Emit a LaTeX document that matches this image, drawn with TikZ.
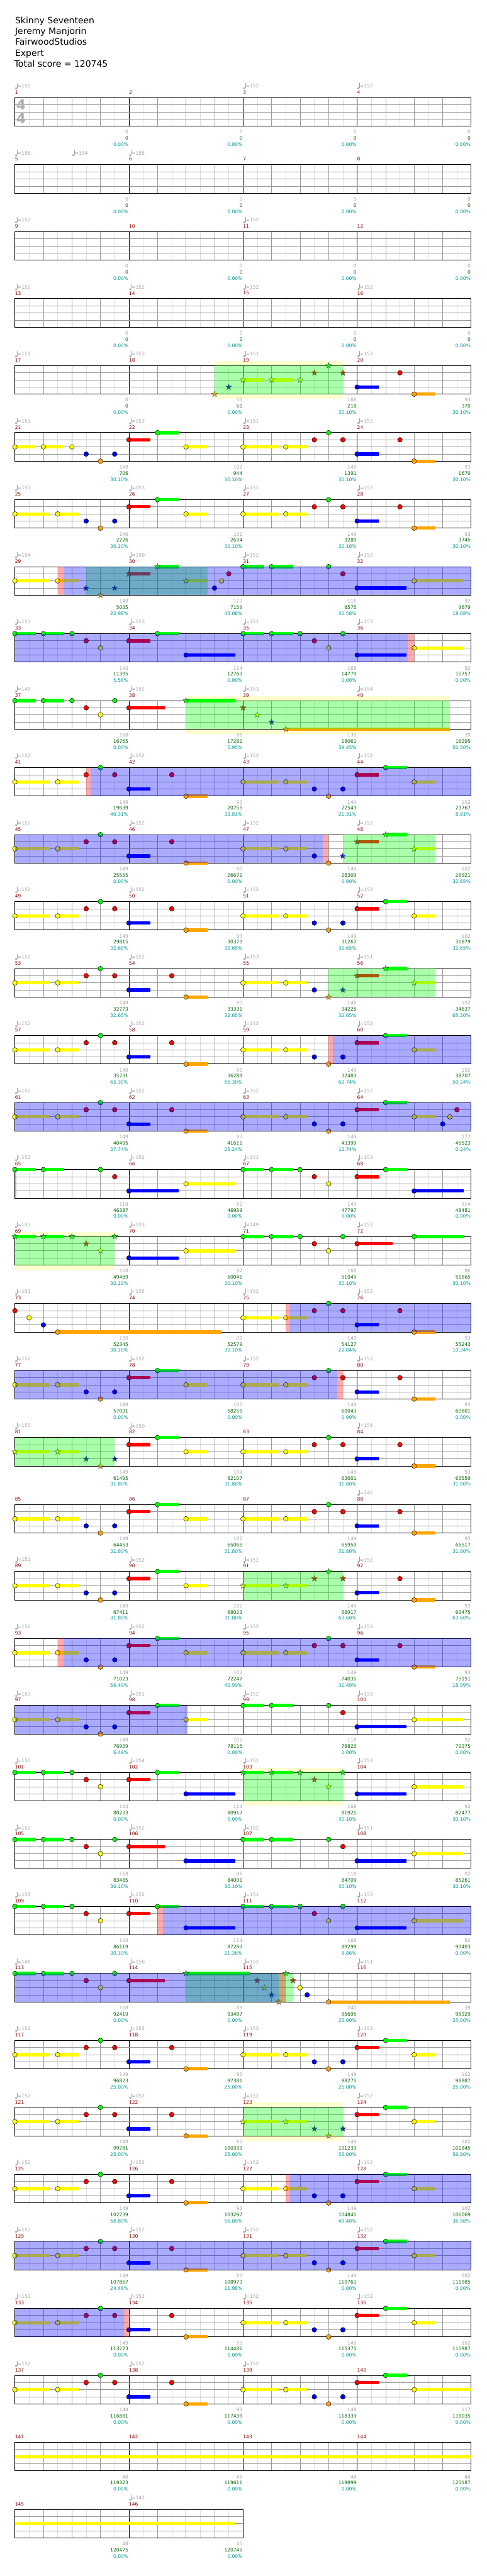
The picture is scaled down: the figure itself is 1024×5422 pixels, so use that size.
\documentclass[tikz,border=0pt]{standalone}
\usepackage{fontspec}
\setmainfont{DejaVu Sans}
\definecolor{cG}{RGB}{0,255,0}
\definecolor{cR}{RGB}{255,0,0}
\definecolor{cY}{RGB}{255,255,0}
\definecolor{cB}{RGB}{0,0,255}
\definecolor{cO}{RGB}{255,165,0}
\definecolor{lgr}{RGB}{222,222,222}
\definecolor{mgr}{RGB}{155,155,155}
\definecolor{tgray}{RGB}{160,160,160}
\definecolor{tsig}{RGB}{175,175,175}
\definecolor{tgreen}{RGB}{0,100,0}
\definecolor{tcyan}{RGB}{0,155,155}
\definecolor{mred}{RGB}{140,0,0}
\definecolor{bandc}{RGB}{255,255,208}
\tikzset{
 tx/.style={font=\fontsize{10}{12}\selectfont, inner sep=0pt},
 tg/.style={tx,text=tgray},
 tgn/.style={tx,text=tgreen},
 tc/.style={tx,text=tcyan},
 mn/.style={tx,text=mred},
 titlet/.style={font=\fontsize{18.5}{22}\selectfont, inner sep=0pt, anchor=base west},
 notec/.style={draw=black,line width=0.6pt},
}
\newcommand\setrow[1]{\pgfmathsetmacro\RT{205.7+141*(#1-1)}\def\RR{#1}}
\newcommand\staff[1]{%
  \pgfmathsetmacro\RE{31.3+240*#1}%
  \pgfmathtruncatemacro\MM{#1-1}%
  \fill[white] (31.3,\RT) rectangle (\RE,{\RT+60});%
  \foreach \m in {0,...,\MM}{%
    \foreach \k in {1,3,5,7}{\draw[lgr,line width=1pt] ({31.3+240*\m+30*\k},\RT) -- ++(0,60);}%
    \foreach \k in {2,4,6}{\draw[mgr,line width=1pt] ({31.3+240*\m+30*\k},\RT) -- ++(0,60);}%
    \ifnum\m>0 \draw[black,line width=1pt] ({31.3+240*\m},\RT) -- ++(0,60);\fi
  }%
  \foreach \l in {1,2,3}{\draw[mgr,line width=1pt] (31.3,{\RT+15*\l}) -- (\RE,{\RT+15*\l});}%
  \draw[black,line width=1.3pt] (31.3,\RT) rectangle (\RE,{\RT+60});%
  \foreach \k in {1,...,#1}{\pgfmathtruncatemacro\mm{4*(\RR-1)+\k}\node[mn,anchor=west] (mn\mm) at ({31.3+240*(\k-1)},{\RT-11.5}) {\mm};}%
}
\newcommand\hnote[3]{\filldraw[fill=#3,notec] ({31.3+30*(#2)},{\RT+15*#1}) circle (5pt);}
\newcommand\hsus[4]{\fill[#4] ({31.3+30*(#2)},{\RT+15*#1-3.5}) rectangle ({31.3+30*(#3)},{\RT+15*#1+3.5});}
\newcommand\hstar[3]{\filldraw[fill=#3,draw=black!80,line width=0.5pt,shift={({31.3+30*(#2)},{\RT+15*#1})}] (90:6.5pt) -- (126:2.6pt) -- (162:6.5pt) -- (198:2.6pt) -- (234:6.5pt) -- (270:2.6pt) -- (306:6.5pt) -- (342:2.6pt) -- (18:6.5pt) -- (54:2.6pt) -- cycle;}
\newcommand\Gn[1]{\hnote{0}{#1}{cG}}
\newcommand\Rn[1]{\hnote{1}{#1}{cR}}
\newcommand\Yn[1]{\hnote{2}{#1}{cY}}
\newcommand\Bn[1]{\hnote{3}{#1}{cB}}
\newcommand\On[1]{\hnote{4}{#1}{cO}}
\newcommand\Gs[2]{\hsus{0}{#1}{#2}{cG}\hnote{0}{#1}{cG}}
\newcommand\Rs[2]{\hsus{1}{#1}{#2}{cR}\hnote{1}{#1}{cR}}
\newcommand\Ys[2]{\hsus{2}{#1}{#2}{cY}\hnote{2}{#1}{cY}}
\newcommand\Bs[2]{\hsus{3}{#1}{#2}{cB}\hnote{3}{#1}{cB}}
\newcommand\Os[2]{\hsus{4}{#1}{#2}{cO}\hnote{4}{#1}{cO}}
\newcommand\Gt[1]{\hstar{0}{#1}{cG}}
\newcommand\Rt[1]{\hstar{1}{#1}{cR}}
\newcommand\Yt[1]{\hstar{2}{#1}{cY}}
\newcommand\Bt[1]{\hstar{3}{#1}{cB}}
\newcommand\Ot[1]{\hstar{4}{#1}{cO}}
\newcommand\Gts[2]{\hsus{0}{#1}{#2}{cG}\hstar{0}{#1}{cG}}
\newcommand\Rts[2]{\hsus{1}{#1}{#2}{cR}\hstar{1}{#1}{cR}}
\newcommand\Yts[2]{\hsus{2}{#1}{#2}{cY}\hstar{2}{#1}{cY}}
\newcommand\Bts[2]{\hsus{3}{#1}{#2}{cB}\hstar{3}{#1}{cB}}
\newcommand\Ots[2]{\hsus{4}{#1}{#2}{cO}\hstar{4}{#1}{cO}}
\newcommand\ovG[2]{\fill[cG,fill opacity=0.333] ({31.3+30*(#1)},\RT) rectangle ({31.3+30*(#2)},{\RT+60});}
\newcommand\ovR[2]{\fill[cR,fill opacity=0.333] ({31.3+30*(#1)},\RT) rectangle ({31.3+30*(#2)},{\RT+60});}
\newcommand\ovB[2]{\fill[cB,fill opacity=0.333] ({31.3+30*(#1)},\RT) rectangle ({31.3+30*(#2)},{\RT+60});}
\newcommand\band[2]{\fill[bandc] ({31.3+30*(#1)},{\RT-10}) rectangle ({31.3+30*(#2)},{\RT+70});}
\newcommand\tempo[2]{%
 \pgfmathsetmacro\xt{31.3+30*(#1)}%
 \fill[tgray] ({\xt+2.6},{\RT-20}) ellipse (2.6pt and 2pt);%
 \draw[tgray,line width=0.8pt] ({\xt+4.9},{\RT-20.5}) -- ({\xt+4.9},{\RT-31});%
 \node[tg,anchor=west] (tp\RR-#1) at ({\xt+5.6},{\RT-24.5}) {=#2};}
\newcommand\tmq[2]{\if\relax\detokenize{#2}\relax\else\tempo{#1}{#2}\fi}
\newcommand\tempos[4]{\tmq{0}{#1}\tmq{8}{#2}\tmq{16}{#3}\tmq{24}{#4}}
\newcommand\score[4]{%
 \pgfmathsetmacro\xe{31.3+240*#1-1}%
 \node[tg,anchor=east] (sa\RR-#1) at (\xe,{\RT+72.5}) {#2};%
 \node[tgn,anchor=east] (sb\RR-#1) at (\xe,{\RT+85.5}) {#3};%
 \node[tc,anchor=east] (sc\RR-#1) at (\xe,{\RT+98.5}) {#4\%};}
\newcommand\zeros{\score{1}{0}{0}{0.00}\score{2}{0}{0}{0.00}\score{3}{0}{0}{0.00}\score{4}{0}{0}{0.00}}
% patterns
\newcommand\patBa{\Ys{0}{2.46}\Ys{3}{4.46}\Rn{5}\Gn{6}\Rn{7}\Bs{8}{9.5}\Rn{11}\Os{12}{13.5}}
\newcommand\patBb{\Ys{16}{18.5}\Ys{19}{20.5}}
\newcommand\patBc{\Bn{21}\On{22}\Bn{23}}
\newcommand\patBd{\Rs{24}{25.5}\Gs{26}{27.5}\Ys{28}{29.5}}
\newcommand\patB{\patBa\patBb\patBc\patBd}
\newcommand\patAone{\Ys{0}{1.46}\Ys{2}{3.46}\Yn{4}\Bn{5}\On{6}\Bn{7}\Rs{8}{9.5}\Gs{10}{11.5}\Ys{12}{13.5}}
\newcommand\patAtwo{\Ys{0}{2.46}\Ys{3}{4.46}\Bn{5}\On{6}\Bn{7}\Rs{8}{9.5}\Gs{10}{11.5}\Ys{12}{13.5}}
\newcommand\patAb{\Ys{16}{18.5}\Ys{19}{20.5}\Rn{21}\Gn{22}\Rn{23}}
\newcommand\patAc{\Bs{24}{25.5}\Rn{27}\Os{28}{29.5}}
\newcommand\patCa{\Gs{0}{1.46}\Gs{2}{3.46}\Gn{4}\Rn{5}\Yn{6}\Rs{8}{9.5}\Gs{10}{11.5}\Bs{12}{15.46}}
\newcommand\patCb{\Gs{16}{17.5}\Gs{18}{19.5}\Gn{20}\Rn{21}\Yn{22}\Gn{23}}
\newcommand\patCc{\Bs{24}{27.46}\Ys{28}{31.46}}
\newcommand\patC{\patCa\patCb\patCc}
\newcommand\patDa{\Gs{0}{1.46}\Gs{2}{3.46}\Gn{4}\Rn{5}\Yn{6}\Gn{7}\Rs{8}{10.5}}
\newcommand\patE{\Gs{16}{17.5}\Gs{18}{19.5}\Gn{22}\Rn{23}\Bs{24}{27.46}\Ys{28}{31.46}}
\begin{document}
\begin{tikzpicture}[x=1pt,y=-1pt]
\useasboundingbox (0,0) rectangle (1024,5422);
\fill[white] (0,0) rectangle (1024,5422);
\node[titlet] (ti1) at (31.7,49.3) {Skinny Seventeen};
\node[titlet] (ti2) at (31.7,72.3) {Jeremy Manjorin};
\node[titlet] (ti3) at (31.7,95.3) {FairwoodStudios};
\node[titlet] (ti4) at (31.7,118.3) {Expert};
\node[titlet] (ti5) at (30,141.3) {Total score = 120745};
% row 1
\setrow{1}\staff{4}
\node[font=\fontsize{29}{29}\selectfont\bfseries,text=tsig,inner sep=0pt] (ts1) at (44.5,{\RT+15}) {4};
\node[font=\fontsize{29}{29}\selectfont\bfseries,text=tsig,inner sep=0pt] (ts2) at (44.5,{\RT+44.5}) {4};
\tempo{0}{150}\tempo{16}{152}\tempo{24}{152}
\zeros
% row 2
\setrow{2}\staff{4}
\tempo{0}{156}\tempo{4}{154}\tempo{8}{155}
\zeros
% row 3
\setrow{3}\staff{4}
\tempo{0}{152}\tempo{16}{152}
\zeros
% row 4
\setrow{4}\staff{4}
\tempos{152}{152}{152}{152}
\zeros
% row 5
\setrow{5}\band{14}{23}\staff{4}\tempos{151}{153}{151}{153}
\Ot{14}\Bt{15}\Yts{16}{17.5}\Yts{18}{19.5}\Yt{20}\Rt{21}\Gt{22}\Rt{23}\patAc
\ovG{14}{23}
\score{1}{0}{0}{0.00}\score{2}{50}{50}{0.00}\score{3}{168}{218}{30.10}\score{4}{93}{370}{30.10}
% row 6
\setrow{6}\staff{4}\tempos{151}{153}{151}{153}
\patAone\patAb\patAc
\score{1}{168}{706}{30.10}\score{2}{102}{944}{30.10}\score{3}{149}{1391}{30.10}\score{4}{93}{1670}{30.10}
% row 7
\setrow{7}\staff{4}\tempos{151}{153}{151}{153}
\patAtwo\patAb\patAc
\score{1}{149}{2226}{30.10}\score{2}{102}{2634}{30.10}\score{3}{149}{3280}{30.10}\score{4}{93}{3745}{30.10}
% row 8
\setrow{8}\staff{4}\tempos{154}{150}{152}{152}
\Ys{0}{2.46}\Ys{3}{4.46}\Bt{5}\Ot{6}\Bt{7}\Rts{8}{9.5}\Gts{10}{11.5}\Yts{12}{13.5}\Bn{14}\Yn{14.5}\Rn{15}\Gs{16}{17.5}\Gs{18}{19.5}\Gn{22}\Rn{23}\Bs{24}{27.46}\Ys{28}{31.46}
\ovG{5}{13.5}\ovR{3}{3.4}\ovB{3.4}{32}
\score{1}{149}{5035}{22.98}\score{2}{177}{7159}{43.08}\score{3}{118}{8575}{30.58}\score{4}{92}{9679}{18.08}
% row 9
\setrow{9}\staff{4}\tempos{151}{153}{151}{153}
\patC
\ovB{0}{27.55}\ovR{27.55}{28}
\score{1}{143}{11395}{5.58}\score{2}{114}{12763}{0.00}\score{3}{168}{14779}{0.00}\score{4}{92}{15757}{0.00}
% row 10
\setrow{10}\band{12}{30.5}\staff{4}\tempos{149}{152}{153}{154}
\patDa\Gts{12}{15.46}\Rt{16}\Yt{17}\Bt{18}\Ots{19}{30.5}
\ovG{12}{30.5}
\score{1}{168}{16765}{0.00}\score{2}{86}{17281}{5.95}\score{3}{130}{18061}{39.45}\score{4}{39}{18295}{50.50}
% row 11
\setrow{11}\staff{4}\tempos{152}{152}{152}{152}
\patB
\ovR{5}{5.3}\ovB{5.3}{32}
\score{1}{149}{19639}{46.31}\score{2}{93}{20755}{33.81}\score{3}{149}{22543}{21.31}\score{4}{102}{23767}{8.81}
% row 12
\setrow{12}\staff{4}\tempos{152}{152}{152}{152}
\patBa\patBb\Bn{21}\On{22}\Bt{23}\Rts{24}{25.5}\Gts{26}{27.5}\Yts{28}{29.5}
\ovG{23}{29.5}\ovB{0}{21.6}\ovR{21.6}{22}
\score{1}{149}{25555}{0.00}\score{2}{93}{26671}{0.00}\score{3}{149}{28309}{0.00}\score{4}{102}{28921}{32.65}
% row 13
\setrow{13}\staff{4}\tempos{152}{152}{152}{152}
\patB
\score{1}{149}{29815}{32.65}\score{2}{93}{30373}{32.65}\score{3}{149}{31267}{32.65}\score{4}{102}{31879}{32.65}
% row 14
\setrow{14}\staff{4}\tempos{152}{152}{153}{151}
\patBa\patBb\Bn{21}\Ot{22}\Bt{23}\Rts{24}{25.5}\Gts{26}{27.5}\Yts{28}{29.5}
\ovG{22}{29.5}
\score{1}{149}{32773}{32.65}\score{2}{93}{33331}{32.65}\score{3}{149}{34225}{32.65}\score{4}{102}{34837}{65.30}
% row 15
\setrow{15}\staff{4}\tempos{152}{152}{152}{152}
\patB
\ovR{22}{22.3}\ovB{22.3}{32}
\score{1}{149}{35731}{65.30}\score{2}{93}{36289}{65.30}\score{3}{149}{37483}{62.74}\score{4}{102}{38707}{50.24}
% row 16
\setrow{16}\staff{4}\tempos{152}{152}{152}{152}
\patB\Bn{30}\Yn{30.5}\Rn{31}
\ovB{0}{32}
\score{1}{149}{40495}{37.74}\score{2}{93}{41611}{25.24}\score{3}{149}{43399}{12.74}\score{4}{177}{45523}{0.24}
% row 17
\setrow{17}\staff{4}\tempos{152}{152}{151}{153}
\Gs{0}{1.46}\Gs{2}{3.46}\Gn{6}\Rn{7}\Bs{8}{11.5}\Ys{12}{15.46}\Gs{16}{17.5}\Gs{18}{19.5}\Gn{20}\Rn{21}\Yn{22}\Rs{24}{25.5}\Gs{26}{27.5}\Bs{28}{31.46}
\ovB{0}{0.12}
\score{1}{118}{46387}{0.00}\score{2}{92}{46939}{0.00}\score{3}{143}{47797}{0.00}\score{4}{114}{48481}{0.00}
% row 18
\setrow{18}\band{0}{7}\staff{4}\tempos{151}{153}{149}{153}
\Gts{0}{1.46}\Gts{2}{3.46}\Gt{4}\Rt{5}\Yt{6}\Gt{7}\Bs{8}{11.5}\Ys{12}{15.46}\Gs{16}{17.5}\Gs{18}{19.5}\Gn{20}\Rn{21}\Yn{22}\Gn{23}\Rs{24}{26.5}\Gs{28}{31.46}
\ovG{0}{7}
\score{1}{168}{49489}{30.10}\score{2}{92}{50041}{30.10}\score{3}{168}{51049}{30.10}\score{4}{86}{51565}{30.10}
% row 19
\setrow{19}\staff{4}\tempos{151}{155}{152}{152}
\Rn{0}\Yn{1}\Bn{2}\Os{3}{14.47}\patAb\patAc
\ovR{19}{19.3}\ovB{19.3}{32}
\score{1}{130}{52345}{30.10}\score{2}{39}{52579}{30.10}\score{3}{149}{54127}{22.84}\score{4}{93}{55243}{10.34}
% row 20
\setrow{20}\staff{4}\tempos{152}{152}{152}{152}
\patAtwo\patAb\patAc
\ovB{0}{22.6}\ovR{22.6}{23}
\score{1}{149}{57031}{0.00}\score{2}{102}{58255}{0.00}\score{3}{149}{60043}{0.00}\score{4}{93}{60601}{0.00}
% row 21
\setrow{21}\staff{4}\tempos{155}{150}{}{154}
\Yts{0}{2.46}\Yts{3}{4.46}\Bt{5}\Ot{6}\Bt{7}\Rs{8}{9.5}\Gs{10}{11.5}\Ys{12}{13.5}\patAb\patAc
\ovG{0}{7}
\score{1}{149}{61495}{31.80}\score{2}{102}{62107}{31.80}\score{3}{149}{63001}{31.80}\score{4}{93}{63559}{31.80}
% row 22
\setrow{22}\staff{4}\tempos{}{}{}{145}
\patAtwo\patAb\patAc
\score{1}{149}{64453}{31.80}\score{2}{102}{65065}{31.80}\score{3}{149}{65959}{31.80}\score{4}{93}{66517}{31.80}
% row 23
\setrow{23}\staff{4}\tempos{151}{152}{152}{152}
\patAtwo\Yts{16}{18.5}\Yts{19}{20.5}\Rt{21}\Gt{22}\Rt{23}\patAc
\ovG{16}{23}
\score{1}{149}{67411}{31.80}\score{2}{102}{68023}{31.80}\score{3}{149}{68917}{63.60}\score{4}{93}{69475}{63.60}
% row 24
\setrow{24}\staff{4}\tempos{152}{152}{152}{152}
\patAtwo\patAb\patAc
\ovR{3}{3.4}\ovB{3.4}{32}
\score{1}{149}{71023}{56.49}\score{2}{102}{72247}{43.99}\score{3}{149}{74035}{31.49}\score{4}{93}{75151}{18.99}
% row 25
\setrow{25}\staff{4}\tempos{153}{151}{152}{152}
\patAtwo\patE
\ovB{0}{12.1}
\score{1}{149}{76939}{6.49}\score{2}{102}{78115}{0.00}\score{3}{118}{78823}{0.00}\score{4}{92}{79375}{0.00}
% row 26
\setrow{26}\band{16}{23}\staff{4}\tempos{150}{154}{151}{153}
\patCa\Gts{16}{17.5}\Gts{18}{19.5}\Gt{20}\Rt{21}\Yt{22}\Gt{23}\patCc
\ovG{16}{23}
\score{1}{143}{80233}{0.00}\score{2}{114}{80917}{0.00}\score{3}{168}{81925}{30.10}\score{4}{92}{82477}{30.10}
% row 27
\setrow{27}\staff{4}\tempos{152}{152}{152}{151}
\patDa\Bs{12}{15.46}\patE
\score{1}{168}{83485}{30.10}\score{2}{86}{84001}{30.10}\score{3}{118}{84709}{30.10}\score{4}{92}{85261}{30.10}
% row 28
\setrow{28}\staff{4}\tempos{153}{152}{151}{153}
\patC
\ovR{10}{10.4}\ovB{10.4}{32}
\score{1}{143}{86119}{30.10}\score{2}{114}{87283}{21.36}\score{3}{168}{89299}{8.86}\score{4}{92}{90403}{0.00}
% row 29
\setrow{29}\staff{4}\tempos{148}{156}{152}{151}
\patDa\Gts{12}{16.46}\Rt{17}\Yt{17.5}\Bt{18}\Ot{18.5}\Gt{19}\Rt{19.5}\Yn{20}\Bn{20.5}\Os{22}{30.5}
\ovG{12}{19.5}\ovR{18.5}{19}\ovB{0}{18.5}
\score{1}{168}{92419}{0.00}\score{2}{89}{93487}{0.00}\score{3}{240}{95695}{25.00}\score{4}{39}{95929}{25.00}
% row 30
\setrow{30}\staff{4}\tempos{152}{152}{152}{152}
\patB
\score{1}{149}{96823}{25.00}\score{2}{93}{97381}{25.00}\score{3}{149}{98275}{25.00}\score{4}{102}{98887}{25.00}
% row 31
\setrow{31}\band{16}{23}\staff{4}\tempos{152}{152}{152}{152}
\patBa\Yts{16}{18.5}\Yts{19}{20.5}\Bt{21}\Ot{22}\Bt{23}\patBd
\ovG{16}{23}
\score{1}{149}{99781}{25.00}\score{2}{93}{100339}{25.00}\score{3}{149}{101233}{56.80}\score{4}{102}{101845}{56.80}
% row 32
\setrow{32}\staff{4}\tempos{152}{152}{152}{152}
\patB
\ovR{19}{19.3}\ovB{19.3}{32}
\score{1}{149}{102739}{56.80}\score{2}{93}{103297}{56.80}\score{3}{149}{104845}{49.48}\score{4}{102}{106069}{36.98}
% row 33
\setrow{33}\staff{4}\tempos{152}{152}{152}{152}
\patB
\ovB{0}{32}
\score{1}{149}{107857}{24.48}\score{2}{93}{108973}{11.98}\score{3}{149}{110761}{0.00}\score{4}{102}{111985}{0.00}
% row 34
\setrow{34}\staff{4}\tempos{152}{152}{152}{152}
\patB
\ovB{0}{7.65}\ovR{7.65}{8}
\score{1}{149}{113773}{0.00}\score{2}{93}{114481}{0.00}\score{3}{149}{115375}{0.00}\score{4}{102}{115987}{0.00}
% row 35
\setrow{35}\staff{4}\tempos{152}{152}{152}{}
\patBa\patBb\patBc\Rs{24}{25.5}\Gs{26}{27.5}\Ys{28}{32}
\score{1}{149}{116881}{0.00}\score{2}{93}{117439}{0.00}\score{3}{149}{118333}{0.00}\score{4}{117}{119035}{0.00}
% row 36
\setrow{36}\staff{4}
\hsus{2}{0}{32}{cY}
\score{1}{48}{119323}{0.00}\score{2}{48}{119611}{0.00}\score{3}{48}{119899}{0.00}\score{4}{48}{120187}{0.00}
% row 37
\setrow{37}\staff{2}\tempo{8}{142}
\hsus{2}{0}{15.45}{cY}
\score{1}{48}{120475}{0.00}\score{2}{45}{120745}{0.00}
\end{tikzpicture}
\end{document}
